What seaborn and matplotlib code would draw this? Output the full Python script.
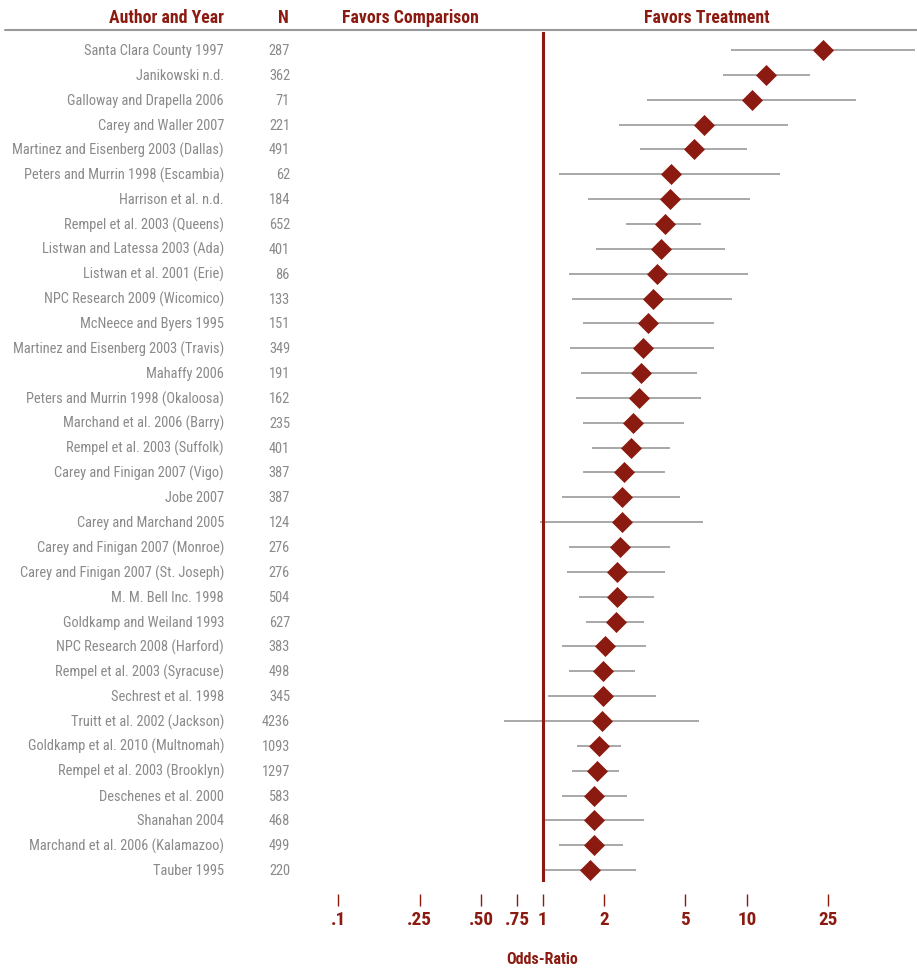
import numpy as np
import pandas as pd
import seaborn as sns
import matplotlib.pyplot as plt
import matplotlib.transforms as mtransforms
import matplotlib.font_manager as fm

authors = [
    "Santa Clara County 1997", "Janikowski n.d.", "Galloway and Drapella 2006",
    "Carey and Waller 2007", "Martinez and Eisenberg 2003 (Dallas)",
    "Peters and Murrin 1998 (Escambia)", "Harrison et al. n.d.",
    "Rempel et al. 2003 (Queens)", "Listwan and Latessa 2003 (Ada)",
    "Listwan et al. 2001 (Erie)", "NPC Research 2009 (Wicomico)",
    "McNeece and Byers 1995", "Martinez and Eisenberg 2003 (Travis)",
    "Mahaffy 2006", "Peters and Murrin 1998 (Okaloosa)",
    "Marchand et al. 2006 (Barry)", "Rempel et al. 2003 (Suffolk)",
    "Carey and Finigan 2007 (Vigo)", "Jobe 2007", "Carey and Marchand 2005",
    "Carey and Finigan 2007 (Monroe)", "Carey and Finigan 2007 (St. Joseph)",
    "M. M. Bell Inc. 1998", "Goldkamp and Weiland 1993",
    "NPC Research 2008 (Harford)", "Rempel et al. 2003 (Syracuse)",
    "Sechrest et al. 1998", "Truitt et al. 2002 (Jackson)",
    "Goldkamp et al. 2010 (Multnomah)", "Rempel et al. 2003 (Brooklyn)",
    "Deschenes et al. 2000", "Shanahan 2004",
    "Marchand et al. 2006 (Kalamazoo)", "Tauber 1995",
]
n_sizes = [287, 362, 71, 221, 491, 62, 184, 652, 401, 86, 133, 151, 349, 191,
           162, 235, 401, 387, 387, 124, 276, 276, 504, 627, 383, 498, 345,
           4236, 1093, 1297, 583, 468, 499, 220]
odds = [23.7, 12.4, 10.6, 6.2, 5.5, 4.26, 4.19, 3.99, 3.81, 3.65, 3.48, 3.28,
        3.09, 3.02, 2.96, 2.78, 2.72, 2.51, 2.45, 2.45, 2.40, 2.32, 2.32, 2.28,
        2.01, 1.98, 1.98, 1.95, 1.89, 1.85, 1.79, 1.78, 1.78, 1.70]
ci_low = [8.4, 7.6, 3.25, 2.37, 3.0, 1.21, 1.67, 2.57, 1.83, 1.34, 1.39, 1.58,
          1.36, 1.55, 1.46, 1.58, 1.75, 1.58, 1.25, 0.97, 1.34, 1.32, 1.51,
          1.63, 1.24, 1.35, 1.06, 0.65, 1.47, 1.39, 1.24, 1.03, 1.21, 1.03]
ci_high = [66.5, 20.4, 34.2, 15.9, 10.0, 14.6, 10.4, 5.97, 7.83, 10.1, 8.44,
           6.89, 6.89, 5.71, 5.95, 4.94, 4.19, 3.96, 4.69, 6.13, 4.19, 3.96,
           3.50, 3.13, 3.21, 2.82, 3.59, 5.82, 2.41, 2.36, 2.58, 3.15, 2.47,
           2.88]
tick_vals = [0.1, 0.25, 0.5, 0.75, 1, 2, 5, 10, 25]
tick_labels = [".1", ".25", ".50", ".75", "1", "2", "5", "10", "25"]

df = pd.DataFrame({"author": authors, "n": n_sizes, "odds": odds,
                   "lo": ci_low, "hi": ci_high})
df["row"] = np.arange(len(df))

red = "#8b1a10"
grey_txt = "#8a8a8a"

# look for a narrow / condensed face, the original uses one
font_name, font_stretch = "DejaVu Sans", "normal"
narrow_words = ("Narrow", "Condensed")
cond_stretch = ("condensed", "semi-condensed", "extra-condensed",
                "ultra-condensed")
found = []
for f in fm.fontManager.ttflist:
    st = f.stretch
    if isinstance(st, (int, float)):
        st = "condensed" if st < 500 else "normal"
    if any(w in f.name for w in narrow_words) or st in cond_stretch:
        found.append((f.name, st))
prefs = ["Liberation Sans Narrow", "Roboto Condensed", "Open Sans Condensed",
         "Noto Sans", "Open Sans", "Roboto", "DejaVu Sans"]
for p in prefs:
    hits = [x for x in found if x[0] == p]
    if hits:
        font_name, font_stretch = hits[0]
        break
else:
    if found:
        font_name, font_stretch = found[0]

sns.set_style("white")
plt.rcParams["font.family"] = [font_name, "DejaVu Sans"]
plt.rcParams["font.stretch"] = font_stretch

W, H = 917, 970
fig = plt.figure(figsize=(W / 100, H / 100), dpi=100)
ax = fig.add_axes([300 / W, 87 / H, 617 / W, 850 / H])

ax.hlines(df["row"], df["lo"], df["hi"], color="#9a9a9a", lw=1.2, zorder=1)
ax.axvline(1, color=red, lw=2.2, zorder=2)
sns.scatterplot(data=df, x="odds", y="row", marker="D", s=115, color=red,
                edgecolor=red, linewidth=0, ax=ax, zorder=3, legend=False)

ax.set_xscale("log")
ax.set_xlim(0.065, 68)
ax.set_ylim(len(df) - 1 + 0.48, -0.725)
ax.set_xticks(tick_vals)
ax.set_xticklabels(tick_labels)
ax.minorticks_off()
ax.set_yticks([])
ax.set_xlabel("")
ax.set_ylabel("")
for s in ["top", "left", "right", "bottom"]:
    ax.spines[s].set_visible(False)
ax.spines["bottom"].set_position(("outward", 8.6))
ax.tick_params(axis="x", bottom=True, direction="out", length=8.6, width=1,
               color=red, labelcolor=red, labelsize=14, pad=3)
for lab in ax.get_xticklabels():
    lab.set_fontweight("bold")

trans = mtransforms.blended_transform_factory(fig.transFigure, ax.transData)
name_txt, n_txt = [], []
for _, r in df.iterrows():
    name_txt.append(ax.text(224 / W, r["row"], r["author"], transform=trans,
                            ha="right", va="center", fontsize=11.5,
                            color=grey_txt, clip_on=False))
    n_txt.append(ax.text(290 / W, r["row"], str(r["n"]), transform=trans,
                         ha="right", va="center", fontsize=11.5,
                         color=grey_txt, clip_on=False))

hy = 1 - 18 / H
head = dict(va="center", fontsize=14, fontweight="bold", color=red)
h_author = fig.text(224 / W, hy, "Author and Year", ha="right", **head)
h_n = fig.text(283 / W, hy, "N", ha="center", **head)
h_comp = fig.text(410 / W, hy, "Favors Comparison", ha="center", **head)
h_treat = fig.text(707 / W, hy, "Favors Treatment", ha="center", **head)
fig.add_artist(plt.Line2D([5 / W, 1], [1 - 31 / H, 1 - 31 / H],
                          transform=fig.transFigure, color="#999999", lw=1.5))

trans_x = mtransforms.blended_transform_factory(ax.transData, fig.transFigure)
or_lab = ax.text(1, 1 - 960 / H, "Odds-Ratio", transform=trans_x,
                 ha="center", va="center", fontsize=12, fontweight="bold",
                 color=red, clip_on=False)

# size the texts to the widths they have in the original
fig.canvas.draw()
rend = fig.canvas.get_renderer()


def width(t):
    return t.get_window_extent(rend).width


k = 212 / max(width(t) for t in name_txt)
for t in name_txt + n_txt:
    t.set_fontsize(t.get_fontsize() * k)
kh = 137 / width(h_comp)
for t in (h_author, h_n, h_comp, h_treat):
    t.set_fontsize(t.get_fontsize() * kh)
ax.tick_params(axis="x", labelsize=14 * kh * 1.08)
or_lab.set_fontsize(or_lab.get_fontsize() * 72 / width(or_lab))

fig.savefig("out.png", dpi=100)
